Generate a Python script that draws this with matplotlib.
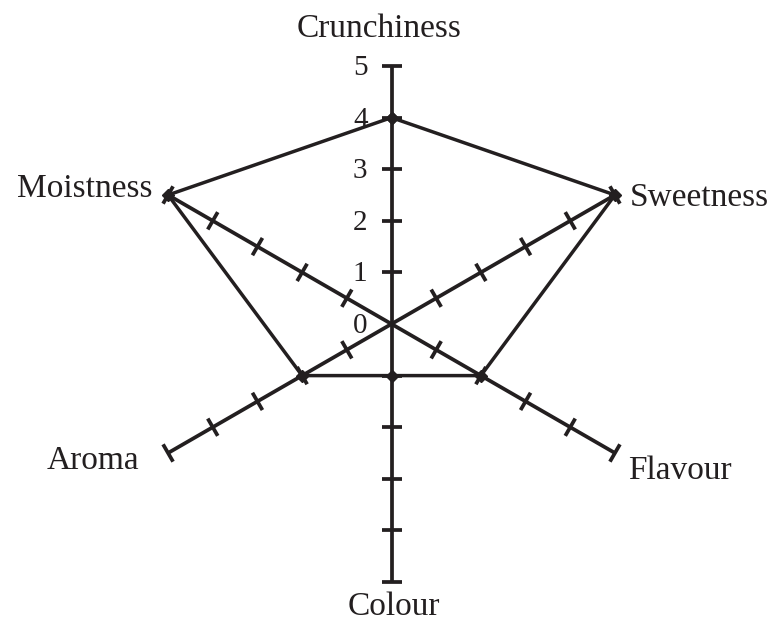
import matplotlib
matplotlib.use("Agg")
import matplotlib.pyplot as plt
import numpy as np

# attributes clockwise from the top, with their scores (0-5)
categories = ["Crunchiness", "Sweetness", "Flavour", "Colour", "Aroma", "Moistness"]
scores = [4, 5, 2, 1, 2, 5]
scale_ticks = [0, 1, 2, 3, 4, 5]
angles_deg = [90, 30, -30, -90, -150, 150]

ink = "#231f20"
unit_px = 51.6
cx, cy = 391.5, 324.0
W, H = 774, 622

plt.rcParams["font.family"] = ["Liberation Serif", "DejaVu Serif"]

fig = plt.figure(figsize=(W / 100, H / 100), dpi=100)
ax = fig.add_axes([0, 0, 1, 1])
ax.set_xlim(-cx / unit_px, (W - cx) / unit_px)
ax.set_ylim(-(H - cy) / unit_px, cy / unit_px)
ax.axis("off")

rmax = scale_ticks[-1]
half_tick = 10 / unit_px

# spokes with tick marks
for a in angles_deg:
    t = np.deg2rad(a)
    d = np.array([np.cos(t), np.sin(t)])
    n = np.array([-d[1], d[0]])
    ax.plot([0, rmax * d[0]], [0, rmax * d[1]], color=ink, lw=2.7,
            solid_capstyle="butt", zorder=2)
    for r in scale_ticks[1:]:
        p = r * d
        q1 = p + half_tick * n
        q2 = p - half_tick * n
        ax.plot([q1[0], q2[0]], [q1[1], q2[1]], color=ink, lw=2.7,
                solid_capstyle="butt", zorder=2)

# score polygon
th = np.deg2rad(angles_deg)
xs = np.array(scores) * np.cos(th)
ys = np.array(scores) * np.sin(th)
ax.plot(np.append(xs, xs[0]), np.append(ys, ys[0]), color=ink, lw=2.5,
        marker="D", markersize=6, zorder=3)

# scale numbers on the top spoke
for v in scale_ticks:
    ax.annotate(str(v), (0, v), xytext=(-24, -2), textcoords="offset pixels",
                ha="right", va="center", fontsize=21, color=ink)

# attribute names
label_offsets = {
    "Crunchiness": ((-12, 29), "center"),
    "Sweetness": ((15, -11), "left"),
    "Flavour": ((13, -26), "left"),
    "Colour": ((2, -33), "center"),
    "Aroma": ((-29, -16), "right"),
    "Moistness": ((-16, -2), "right"),
}
for name, a in zip(categories, angles_deg):
    t = np.deg2rad(a)
    off, ha = label_offsets[name]
    ax.annotate(name, (rmax * np.cos(t), rmax * np.sin(t)), xytext=off,
                textcoords="offset pixels", ha=ha, va="baseline",
                fontsize=24, color=ink)

fig.savefig("out.png", dpi=100)
